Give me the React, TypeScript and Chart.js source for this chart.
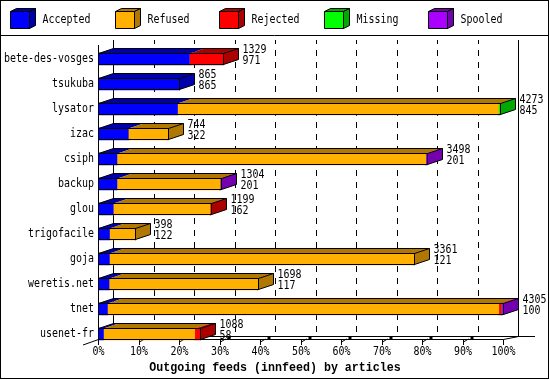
import React, { useEffect, useRef } from "react";
import { Chart, registerables } from "chart.js";

Chart.register(...registerables);

const categories = [
  "bete-des-vosges", "tsukuba", "lysator", "izac", "csiph", "backup",
  "glou", "trigofacile", "goja", "weretis.net", "tnet", "usenet-fr",
];
const accepted = [971, 865, 845, 322, 201, 201, 162, 122, 121, 117, 100, 58];
const refused = [0, 0, 3413, 422, 3282, 1095, 1029, 276, 3240, 1581, 4160, 970];
const rejected = [358, 0, 0, 0, 0, 0, 8, 0, 0, 0, 25, 60];
const missing = [0, 0, 15, 0, 0, 0, 0, 0, 0, 0, 0, 0];
const spooled = [0, 0, 0, 0, 15, 8, 0, 0, 0, 0, 20, 0];
const seriesNames = ["Accepted", "Refused", "Rejected", "Missing", "Spooled"];
const frontColors = ["#0000FF", "#FFB000", "#FF0000", "#00FF00", "#AA00FF"];
const darkColors = ["#0000AA", "#B07800", "#AA0000", "#00AA00", "#7400B0"];
const tickPercents = [0, 10, 20, 30, 40, 50, 60, 70, 80, 90, 100];
const axisTitle = "Outgoing feeds (innfeed) by articles";

const series = [accepted, refused, rejected, missing, spooled];
const totals = categories.map((_, i) => series.reduce((s, a) => s + a[i], 0));
const maxTotal = Math.max(...totals);

const DX = 15;
const DY = 5;
const FONT = '11.5px "DejaVu Sans Mono"';
const SX = 6 / (11.5 * 0.602);

const snap = (v: number) => Math.round(v) + 0.5;

function drawText(ctx: CanvasRenderingContext2D, text: string, x: number, y: number,
  align: "left" | "right" | "center", font = FONT, sx = SX) {
  ctx.save();
  ctx.font = font;
  ctx.textBaseline = "middle";
  ctx.textAlign = "left";
  const w = ctx.measureText(text).width * sx;
  const left = align === "left" ? x : align === "right" ? x - w : x - w / 2;
  ctx.translate(left, y);
  ctx.scale(sx, 1);
  ctx.fillStyle = "#000";
  ctx.fillText(text, 0, 0);
  ctx.restore();
}

function line(ctx: CanvasRenderingContext2D, x1: number, y1: number, x2: number, y2: number) {
  ctx.beginPath();
  ctx.moveTo(x1, y1);
  ctx.lineTo(x2, y2);
  ctx.stroke();
}

function poly(ctx: CanvasRenderingContext2D, pts: number[][], fill?: string, stroke = true) {
  ctx.beginPath();
  pts.forEach((p, i) => (i === 0 ? ctx.moveTo(p[0], p[1]) : ctx.lineTo(p[0], p[1])));
  ctx.closePath();
  if (fill) {
    ctx.fillStyle = fill;
    ctx.fill();
  }
  if (stroke) ctx.stroke();
}

const threeD = {
  id: "threeD",
  beforeDraw(chart: any) {
    const { ctx, width, height } = chart;
    ctx.save();
    ctx.fillStyle = "#fff";
    ctx.fillRect(0, 0, width, height);
    ctx.restore();
  },
  beforeDatasetsDraw(chart: any) {
    const { ctx } = chart;
    const xs = chart.scales.x;
    const max = xs.max;
    const x0 = xs.getPixelForValue(0);
    const x1 = xs.getPixelForValue(max);
    const wallTop = 40;
    const floorBack = 336.5;
    const floorFront = 339.5;
    ctx.save();
    ctx.strokeStyle = "#000";
    ctx.lineWidth = 1;
    ctx.setLineDash([6, 6]);
    ctx.lineDashOffset = 2;
    tickPercents.forEach((p) => {
      if (p === 0 || p === 100) return;
      const gx = snap(xs.getPixelForValue((max * p) / 100) + DX);
      line(ctx, gx, wallTop, gx, floorBack);
    });
    ctx.setLineDash([]);
    line(ctx, snap(x0 + DX), wallTop, snap(x0 + DX), floorBack);
    line(ctx, snap(x1 + DX), wallTop, snap(x1 + DX), floorBack);
    line(ctx, snap(x0), wallTop + DY, snap(x0), floorFront + 1);
    line(ctx, snap(x0 + DX), floorBack, 535, floorBack);
    line(ctx, snap(x0), floorFront, snap(x1), floorFront);
    line(ctx, 83, 345, snap(x0), floorFront);
    line(ctx, snap(x1), floorFront, snap(x1 + DX), floorBack);
    tickPercents.forEach((p) => {
      const tx = snap(xs.getPixelForValue((max * p) / 100));
      line(ctx, tx, floorFront, tx, 345);
      if (p > 0 && p < 100) {
        line(ctx, tx, 342, tx + 5, 339);
        ctx.fillStyle = "#000";
        ctx.fillRect(tx + 7, 336, 3, 3);
      }
    });
    ctx.restore();
  },
  afterDatasetsDraw(chart: any) {
    const { ctx } = chart;
    const xs = chart.scales.x;
    const ys = chart.scales.y;
    const max = xs.max;
    ctx.save();
    ctx.strokeStyle = "#000";
    ctx.lineWidth = 1;

    categories.forEach((cat, i) => {
      const segs: any[] = [];
      chart.data.datasets.forEach((ds: any, d: number) => {
        const v = ds.data[i];
        if (!v) return;
        const el = chart.getDatasetMeta(d).data[i];
        const p = el.getProps(["x", "y", "base", "height"], true);
        segs.push({ d, a: Math.min(p.base, p.x), b: Math.max(p.base, p.x), y: p.y, h: p.height });
      });
      const rowY = ys.getPixelForValue(i);
      if (segs.length) {
        const top = snap(rowY - 6) - 0.5 + 0.5;
        const bottom = snap(rowY + 6) - 1;
        const X0 = snap(segs[0].a);
        const X1 = snap(segs[segs.length - 1].b);
        const last = segs[segs.length - 1];
        // top faces
        segs.forEach((s) => {
          const a = snap(s.a), b = snap(s.b);
          poly(ctx, [[a, top], [a + DX, top - DY], [b + DX, top - DY], [b, top]], darkColors[s.d], false);
        });
        // side face
        poly(ctx, [[X1, top], [X1 + DX, top - DY], [X1 + DX, bottom - DY], [X1, bottom]], darkColors[last.d], false);
        // outlines
        ctx.strokeRect(X0, top, X1 - X0, bottom - top);
        ctx.beginPath();
        ctx.moveTo(X0, top);
        ctx.lineTo(X0 + DX, top - DY);
        ctx.lineTo(X1 + DX, top - DY);
        ctx.lineTo(X1 + DX, bottom - DY);
        ctx.lineTo(X1, bottom);
        ctx.moveTo(X1, top);
        ctx.lineTo(X1 + DX, top - DY);
        ctx.stroke();
        const lx = X1 + DX + 4;
        drawText(ctx, String(totals[i]), lx, rowY - 8.5, "left");
        drawText(ctx, String(accepted[i]), lx, rowY + 2.5, "left");
      }
      drawText(ctx, cat, 94, rowY + 0.5, "right");
    });

    tickPercents.forEach((p) => {
      const tx = xs.getPixelForValue((max * p) / 100);
      drawText(ctx, p + "%", tx + 0.5, 352, "center");
    });
    drawText(ctx, axisTitle, 275, 367.5, "center", 'bold 12px "Liberation Mono"', 0.97);

    // legend
    chart.data.datasets.forEach((ds: any, d: number) => {
      const bx = Math.round(10 + 104.5 * d) + 0.5;
      const by = 11.5, w = 19, h = 17, ldx = 6, ldy = 3;
      poly(ctx, [[bx, by], [bx + ldx, by - ldy], [bx + w + ldx, by - ldy], [bx + w, by]], darkColors[d]);
      poly(ctx, [[bx + w, by], [bx + w + ldx, by - ldy], [bx + w + ldx, by + h - ldy], [bx + w, by + h]], darkColors[d]);
      poly(ctx, [[bx, by], [bx + w, by], [bx + w, by + h], [bx, by + h]], ds.backgroundColor);
      drawText(ctx, ds.label, bx + 32, 20.5, "left");
    });
    line(ctx, 0, 35.5, 549, 35.5);
    ctx.strokeRect(0.5, 0.5, 548, 378);
    ctx.restore();
  },
};

export default function App() {
  const ref = useRef<HTMLCanvasElement>(null);
  useEffect(() => {
    document.body.style.margin = "0";
    const chart = new Chart(ref.current as HTMLCanvasElement, {
      type: "bar",
      data: {
        labels: categories,
        datasets: series.map((data, d) => ({
          label: seriesNames[d],
          data,
          backgroundColor: frontColors[d],
          borderWidth: 0,
          barThickness: 12,
        })),
      },
      options: {
        indexAxis: "y",
        responsive: false,
        animation: false,
        layout: { padding: { left: 98, right: 47, top: 46.5, bottom: 33.5 } },
        scales: {
          x: { display: false, stacked: true, min: 0, max: maxTotal },
          y: { display: false, stacked: true },
        },
        plugins: { legend: { display: false }, tooltip: { enabled: false }, title: { display: false } },
      },
      plugins: [threeD],
    } as any);
    return () => chart.destroy();
  }, []);
  return (
    <div style={{ width: 550, height: 380 }}>
      <canvas ref={ref} width={550} height={380} style={{ display: "block" }} />
    </div>
  );
}
